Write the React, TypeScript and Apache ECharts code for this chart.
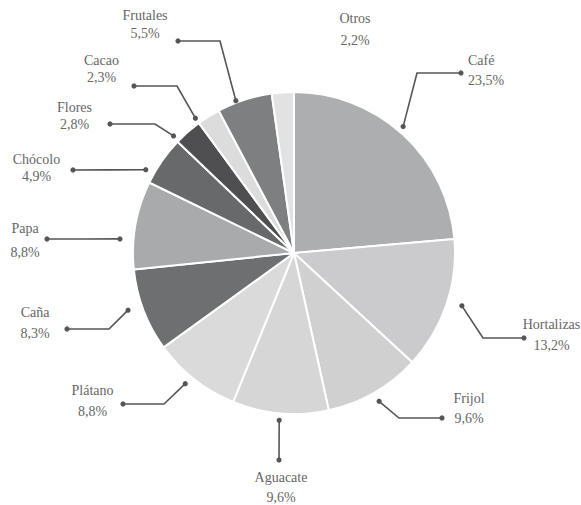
import React, { useEffect, useRef } from 'react';
import * as echarts from 'echarts';

// ---- data ----
const CATEGORIES = ['Café', 'Hortalizas', 'Frijol', 'Aguacate', 'Plátano', 'Caña', 'Papa', 'Chócolo', 'Flores', 'Cacao', 'Frutales', 'Otros'];
const SHARES = [23.5, 13.2, 9.6, 9.6, 8.8, 8.3, 8.8, 4.9, 2.8, 2.3, 5.5, 2.2];

// ---- styles ----
const COLORS = ['#adaeb0', '#cbcbcd', '#d0d0d1', '#d6d6d7', '#dadadb', '#6e6f71', '#a9aaac', '#68696b', '#4f4f51', '#dcdcdd', '#7e7f81', '#e2e2e3'];
const CENTER: [number, number] = [294, 253];
const RADIUS = 161;
const START_ANGLE = 90;
const LINE_COLOR = '#555555';
const TEXT_COLOR = '#666666';
const FONT = 'Liberation Serif';

// leader layout: anchor position within slice (frac of slice angle), anchor radius,
// elbow & end points of the leader, text anchor (x, top), alignment and line height
type Lay = { frac: number; r: number; elbow: number[] | null; end: number[] | null; tx: number; ty: number; align: string; lh: number };
const LAYOUT: Lay[] = [
  { frac: 0.48, r: 167, elbow: [417, 73], end: [461, 73], tx: 468, ty: 50, align: 'left', lh: 20 },
  { frac: 0.47, r: 176, elbow: [483, 338], end: [524, 338], tx: 551.5, ty: 313.5, align: 'center', lh: 21 },
  { frac: 0.5, r: 171, elbow: [399, 418], end: [442, 418], tx: 469, ty: 388, align: 'center', lh: 20 },
  { frac: 0.505, r: 168, elbow: null, end: [279, 460], tx: 281, ty: 467, align: 'center', lh: 20 },
  { frac: 0.55, r: 170, elbow: [164, 404], end: [123, 404], tx: 92.5, ty: 379.5, align: 'center', lh: 21 },
  { frac: 0.563, r: 175.5, elbow: [109, 329], end: [67, 329], tx: 35, ty: 301.5, align: 'center', lh: 21 },
  { frac: 0.33, r: 174.6, elbow: null, end: [47, 239], tx: 25, ty: 216, align: 'center', lh: 24 },
  { frac: 0.19, r: 170, elbow: null, end: [73, 170], tx: 36.5, ty: 150.5, align: 'center', lh: 17 },
  { frac: 0.05, r: 168, elbow: [155, 124], end: [110, 124], tx: 74.5, ty: 98.5, align: 'center', lh: 17 },
  { frac: 0.0, r: 167, elbow: [177, 86], end: [134, 86], tx: 101.5, ty: 51.5, align: 'center', lh: 17 },
  { frac: 0.35, r: 163, elbow: [220, 41], end: [178, 41], tx: 145, ty: 5.75, align: 'center', lh: 18.5 },
  { frac: 0.5, r: 0, elbow: null, end: null, tx: 355, ty: 7, align: 'center', lh: 22 },
];

const fmt = (v: number) => v.toFixed(1).replace('.', ',') + '%';

function anchorPoints(): (number[] | null)[] {
  const total = SHARES.reduce((a, b) => a + b, 0);
  let cum = 0;
  return SHARES.map((v, i) => {
    const lay = LAYOUT[i];
    const a = ((cum + lay.frac * v) / total) * 360; // clockwise from 12 o'clock
    cum += v;
    if (!lay.end) return null;
    const rad = (a * Math.PI) / 180;
    return [CENTER[0] + lay.r * Math.sin(rad), CENTER[1] - lay.r * Math.cos(rad)];
  });
}

export default function App() {
  const ref = useRef<HTMLDivElement>(null);
  useEffect(() => {
    if (!ref.current) return;
    const chart = echarts.init(ref.current, undefined, { renderer: 'svg' });
    const starts = anchorPoints();
    const linePts = LAYOUT.map((lay, i) => {
      const s = starts[i];
      if (!s || !lay.end) return null;
      const e = lay.end;
      const m = lay.elbow || [(s[0] + e[0]) / 2, (s[1] + e[1]) / 2];
      return [s, m, e];
    });
    const dots: any[] = [];
    linePts.forEach((pts) => {
      if (!pts) return;
      [pts[0], pts[2]].forEach((p) =>
        dots.push({ type: 'circle', shape: { cx: p[0], cy: p[1], r: 2.6 }, style: { fill: LINE_COLOR }, z: 100, silent: true })
      );
    });
    chart.setOption({
      animation: false,
      backgroundColor: '#ffffff',
      textStyle: { fontFamily: FONT },
      graphic: dots,
      series: [
        {
          type: 'pie',
          center: CENTER,
          radius: RADIUS,
          startAngle: START_ANGLE,
          clockwise: true,
          avoidLabelOverlap: false,
          itemStyle: { borderColor: '#ffffff', borderWidth: 2 },
          emphasis: { disabled: true },
          label: {
            show: true,
            position: 'outside',
            fontFamily: FONT,
            fontSize: 14,
            color: TEXT_COLOR,
            formatter: (p: any) => `${p.name}\n${fmt(p.value)}`,
          },
          labelLine: { show: true, lineStyle: { color: LINE_COLOR, width: 1.6 } },
          labelLayout: (params: any) => {
            const i = params.dataIndex;
            const lay = LAYOUT[i];
            const out: any = { x: lay.tx, y: lay.ty, align: lay.align, verticalAlign: 'top' };
            if (linePts[i]) out.labelLinePoints = linePts[i];
            return out;
          },
          data: CATEGORIES.map((name, i) => ({
            name,
            value: SHARES[i],
            itemStyle: { color: COLORS[i] },
            label: { lineHeight: LAYOUT[i].lh, fontFamily: FONT, fontSize: 14 },
            labelLine: { show: !!LAYOUT[i].end },
          })),
        },
      ],
    });
    return () => chart.dispose();
  }, []);
  return <div ref={ref} style={{ position: 'absolute', left: 0, top: 0, width: 581, height: 505 }} />;
}
